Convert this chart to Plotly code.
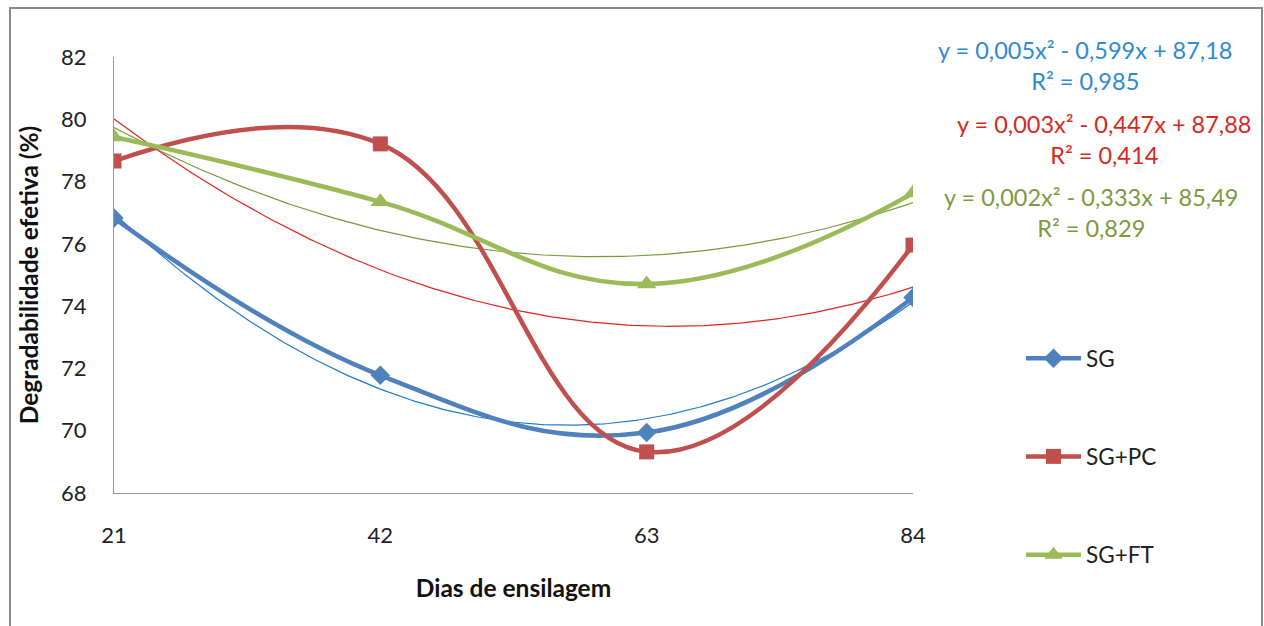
import numpy as np
import plotly.graph_objects as go

# ---- data ----
dias = [21, 42, 63, 84]
sg = [76.83, 71.78, 69.94, 74.28]
sg_pc = [78.66, 79.21, 69.32, 75.96]
sg_ft = [79.43, 77.35, 74.71, 77.63]
series_names = ["SG", "SG+PC", "SG+FT"]
equations = [
    "y = 0,005x² - 0,599x + 87,18<br>R² = 0,985",
    "y = 0,003x² - 0,447x + 87,88<br>R² = 0,414",
    "y = 0,002x² - 0,333x + 85,49<br>R² = 0,829",
]
y_ticks = [68, 70, 72, 74, 76, 78, 80, 82]

W, H = 1264, 626
L, R, T, B = 114, W - 913, 57, H - 493
PW, PH = W - L - R, H - T - B

def px2x(px):
    return (px - L) / PW

def px2y(py):
    return (H - B - py) / PH

FONT = "Lato"
main_colors = ["#4F81BD", "#C0504D", "#9BBB59"]
trend_colors = ["#1F7BCB", "#E0261E", "#7A9A3A"]
text_colors = ["#2F8AD0", "#D42A22", "#7C9A3E"]
symbols = ["diamond", "square", "triangle-up"]
msizes = [15, 15, 17]

fig = go.Figure()
xs = np.linspace(min(dias), max(dias), 200)
all_y = [sg, sg_pc, sg_ft]
for i, ys in enumerate(all_y):
    coef = np.polyfit(dias, ys, 2)
    fig.add_trace(go.Scatter(
        x=xs, y=np.polyval(coef, xs), mode="lines",
        line=dict(color=trend_colors[i], width=1.2),
        showlegend=False, hoverinfo="skip"))
for i, ys in enumerate(all_y):
    fig.add_trace(go.Scatter(
        x=dias, y=ys, name=series_names[i], mode="lines+markers",
        legendgroup=series_names[i],
        line=dict(color=main_colors[i], width=4.5, shape="spline", smoothing=1.2),
        marker=dict(symbol=symbols[i], size=msizes[i], color=main_colors[i])))

eq_pos = [(1085, 65), (1104, 139), (1091, 213)]
for i, eq in enumerate(equations):
    fig.add_annotation(
        x=px2x(eq_pos[i][0]), y=px2y(eq_pos[i][1]), xref="paper", yref="paper",
        xanchor="center", yanchor="middle",
        text=eq, showarrow=False, align="center",
        font=dict(family=FONT, size=23.5, color=text_colors[i]))

fig.add_shape(type="rect", xref="paper", yref="paper",
              x0=px2x(10), x1=px2x(1262), y0=px2y(640), y1=px2y(8),
              line=dict(color="#8C8C8C", width=2), layer="below")

fig.update_layout(
    width=W, height=H,
    margin=dict(l=L, r=R, t=T, b=B, autoexpand=False),
    paper_bgcolor="white", plot_bgcolor="white",
    font=dict(family=FONT, size=22, color="#222222"),
    showlegend=True,
    legend=dict(x=px2x(1021), y=px2y(337), xanchor="left", yanchor="top",
                tracegroupgap=66, itemwidth=55,
                font=dict(family=FONT, size=22.5, color="#222222"),
                bgcolor="rgba(0,0,0,0)"),
)
fig.update_xaxes(
    range=[21, 84], tickvals=dias, ticktext=[str(d) for d in dias],
    showgrid=False, zeroline=False, showline=True, linecolor="#9A9A9A", linewidth=1.2,
    ticks="", ticklabelstandoff=22,
    tickfont=dict(family=FONT, size=22, color="#222222"),
    title=dict(text="<b>Dias de ensilagem</b>", standoff=33,
               font=dict(family=FONT, size=24.5, color="#111111")))
fig.update_yaxes(
    range=[68, 82], tickvals=y_ticks,
    showgrid=False, zeroline=False, showline=True, linecolor="#9A9A9A", linewidth=1.2,
    ticks="", ticklabelstandoff=22,
    tickfont=dict(family=FONT, size=22, color="#222222"),
    title=dict(text="<b>Degradabilidade efetiva (%)</b>", standoff=15,
               font=dict(family=FONT, size=24.5, color="#111111")))

fig.write_html("out.html", config={"displayModeBar": False},
               post_script="document.body.style.margin='0';")
